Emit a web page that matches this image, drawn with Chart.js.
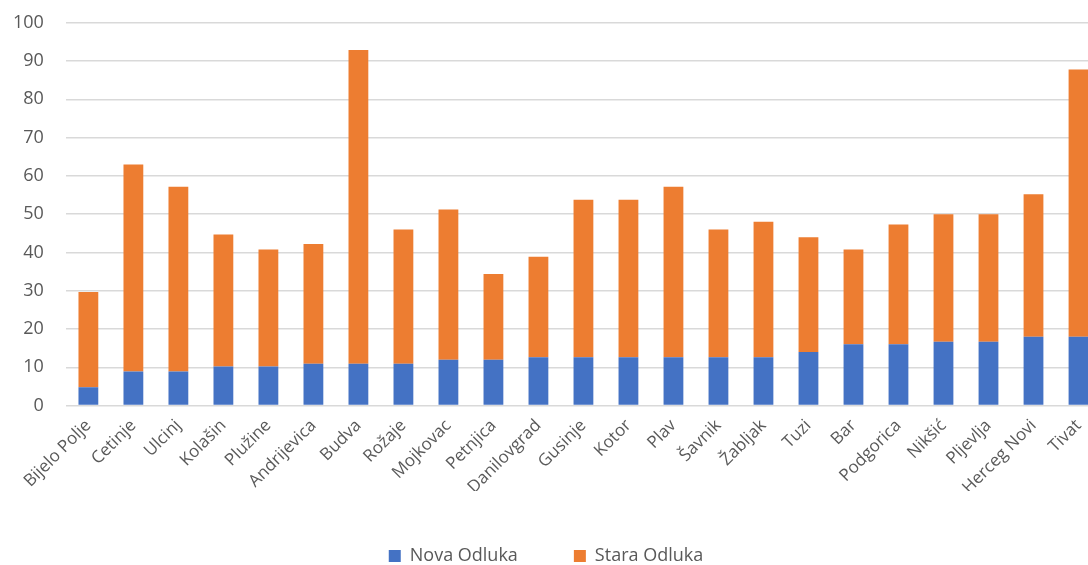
<!DOCTYPE html>
<html>
<head>
<meta charset="utf-8">
<script src="https://cdn.jsdelivr.net/npm/chart.js@4"></script>
<style>
    html, body { margin: 0; padding: 0; background: #fff; overflow: hidden; }
    #wrap { width: 1110px; height: 585px; margin-left: -9px; margin-top: -10px; }
</style>
</head>
<body>
<div id="wrap"><canvas id="chart"></canvas></div>
<script>
const municipalities = ["Bijelo Polje", "Cetinje", "Ulcinj", "Kolašin", "Plužine", "Andrijevica", "Budva",
    "Rožaje", "Mojkovac", "Petnjica", "Danilovgrad", "Gusinje", "Kotor", "Plav", "Šavnik", "Žabljak",
    "Tuzi", "Bar", "Podgorica", "Nikšić", "Pljevlja", "Herceg Novi", "Tivat"];

// new decision (bottom, blue)
const novaOdluka = [4.8, 8.9, 8.9, 10.2, 10.2, 10.9, 10.9,
    10.9, 12.0, 12.0, 12.6, 12.6, 12.6, 12.6, 12.6, 12.6,
    14.0, 16.0, 16.0, 16.7, 16.7, 18.0, 18.0];

// old decision totals
const ukupno = [29.7, 63.0, 57.2, 44.7, 40.8, 42.2, 92.9,
    46.0, 51.2, 34.4, 38.9, 53.8, 53.8, 57.2, 46.0, 48.0,
    44.0, 40.8, 47.3, 50.0, 50.0, 55.2, 87.8];

const staraOdluka = ukupno.map((t, i) => +(t - novaOdluka[i]).toFixed(1));

const yTicks = [0, 10, 20, 30, 40, 50, 60, 70, 80, 90, 100];

const font = "'Open Sans', 'Liberation Sans', sans-serif";

const data = {
    labels: municipalities,
    datasets: [
        {
            label: "Nova Odluka",
            data: novaOdluka,
            backgroundColor: "#4472C4",
            barPercentage: 0.44,
            categoryPercentage: 1.0,
        },
        {
            label: "Stara Odluka",
            data: staraOdluka,
            backgroundColor: "#ED7D31",
            barPercentage: 0.44,
            categoryPercentage: 1.0,
        },
    ],
};

const config = {
    type: 'bar',
    data: data,
    options: {
        responsive: true,
        maintainAspectRatio: false,
        animation: false,
        layout: { padding: 0 },
        plugins: {
            tooltip: { enabled: false },
            legend: {
                position: 'bottom',
                labels: {
                    boxWidth: 12,
                    boxHeight: 12,
                    padding: 56,
                    color: '#595959',
                    font: { family: font, size: 18 },
                },
            },
        },
        scales: {
            x: {
                stacked: true,
                grid: { display: false },
                border: { display: false },
                afterFit: (axis) => { axis.height -= 9; },
                ticks: {
                    color: '#595959',
                    font: { family: font, size: 17 },
                    minRotation: 45,
                    maxRotation: 45,
                    padding: 2,
                },
            },
            y: {
                stacked: true,
                min: 0,
                max: 100,
                afterBuildTicks: (axis) => { axis.ticks = yTicks.map(v => ({ value: v })); },
                grid: { color: '#d9d9d9', lineWidth: 1.5, drawTicks: false },
                border: { display: false },
                ticks: {
                    color: '#595959',
                    font: { family: font, size: 18 },
                    padding: 22,
                },
            },
        },
    },
};

new Chart(document.getElementById('chart').getContext('2d'), config);
</script>
</body>
</html>
